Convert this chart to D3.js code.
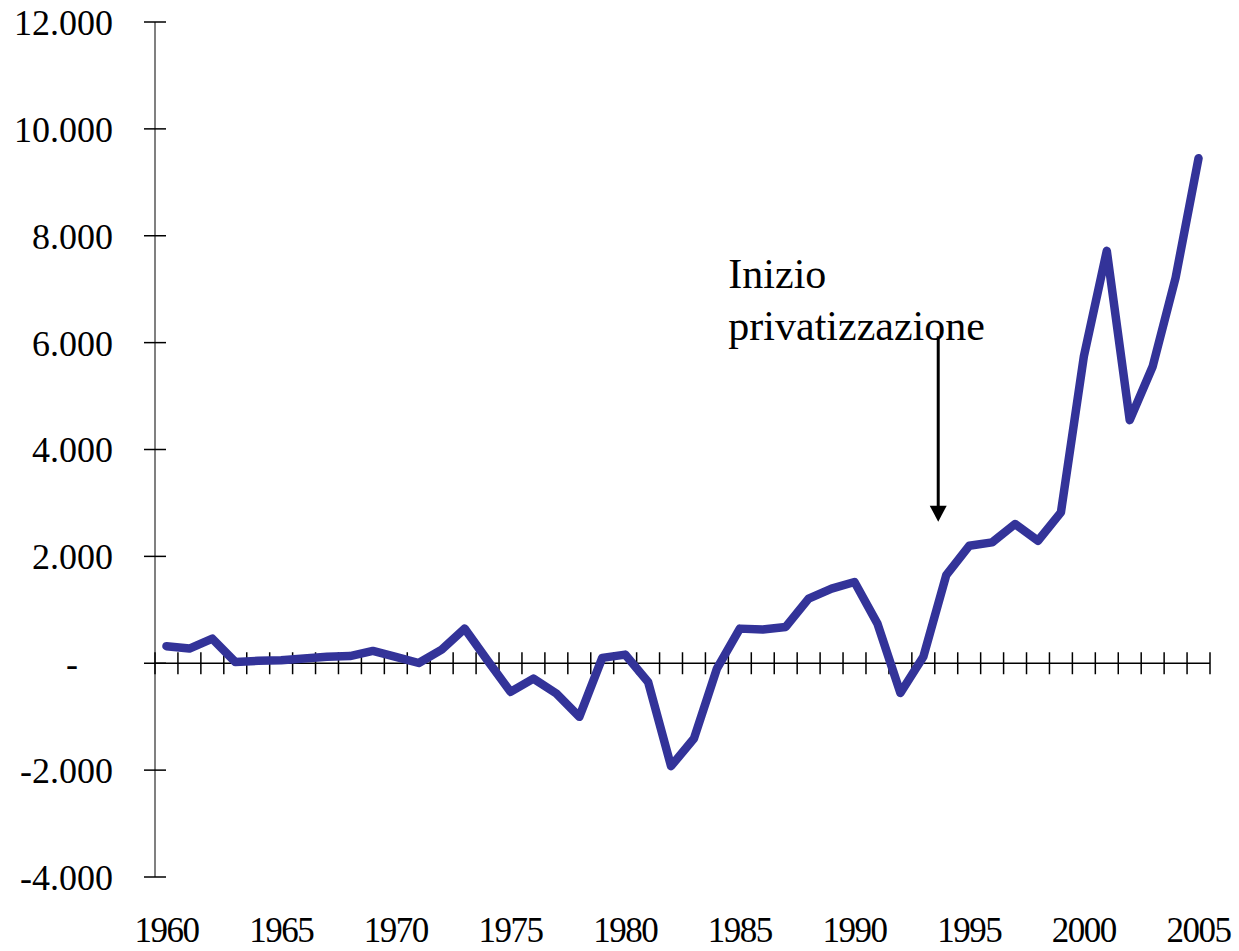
<!DOCTYPE html>
<html>
<head>
<meta charset="utf-8">
<script src="https://cdn.jsdelivr.net/npm/d3@7"></script>
<style>
  html, body { margin: 0; padding: 0; background: #fff; }
  svg { display: block; }
  text { font-family: "Liberation Serif", "Times New Roman", serif; fill: #000; }
</style>
</head>
<body>
<svg id="chart" width="1239" height="951"></svg>
<script>
const years = d3.range(1960, 2006);
const values = [
  320, 275, 460, 25, 45, 55, 90, 120, 135, 230,
  120, 5, 255, 650, 50, -535, -287, -567, -1003, 100,
  162, -350, -1925, -1408, -100, 648, 630, 680, 1210, 1396,
  1520, 742, -555, 120, 1650, 2198, 2262, 2606, 2292, 2824,
  5742, 7718, 4549, 5553, 7215, 9450
];
const yTicks = [-4000, -2000, 0, 2000, 4000, 6000, 8000, 10000, 12000];
const xLabelYears = [1960, 1965, 1970, 1975, 1980, 1985, 1990, 1995, 2000, 2005];
const annotationLines = ["Inizio", "privatizzazione"];
const annotationAt = { year: 1984.5, value: 7015 };
const arrowYear = 1993.65;
const arrowFrom = 6120, arrowTo = 2650;

const svg = d3.select("#chart");
const mLeft = 155, mRight = 1210, mTop = 22, mBottom = 877;

const x = d3.scaleBand().domain(years).range([mLeft, mRight]).paddingInner(0).paddingOuter(0);
const xc = d3.scaleLinear().domain([1959.5, 2005.5]).range([mLeft, mRight]);
const y = d3.scaleLinear().domain([-4000, 12000]).range([mBottom, mTop]);
const cx = d => x(d) + x.bandwidth() / 2;

const fmt = v => v === 0 ? "-" : (v < 0 ? "-" : "") + d3.format(",")(Math.abs(v)).replace(/,/g, ".");

// y axis line
svg.append("line")
  .attr("x1", mLeft).attr("x2", mLeft).attr("y1", y(12000)).attr("y2", y(-4000))
  .attr("stroke", "#808080").attr("stroke-width", 2);

// y ticks
svg.selectAll(".ytick").data(yTicks).join("line")
  .attr("x1", mLeft - 11).attr("x2", mLeft + 11)
  .attr("y1", d => y(d)).attr("y2", d => y(d))
  .attr("stroke", "#000").attr("stroke-width", 1.5);

// y labels
svg.selectAll(".ylab").data(yTicks).join("text")
  .attr("x", d => d === 0 ? 72 : 113)
  .attr("y", d => y(d))
  .attr("dy", "0.36em")
  .attr("text-anchor", d => d === 0 ? "middle" : "end")
  .style("font-size", "36px")
  .text(fmt);

// x axis line at 0
svg.append("line")
  .attr("x1", mLeft).attr("x2", mRight).attr("y1", y(0)).attr("y2", y(0))
  .attr("stroke", "#000").attr("stroke-width", 1.5);

// x ticks at category boundaries
const boundaries = years.map(d => x(d)).concat([mRight]);
svg.selectAll(".xtick").data(boundaries).join("line")
  .attr("x1", d => d).attr("x2", d => d)
  .attr("y1", y(0) - 11).attr("y2", y(0) + 11)
  .attr("stroke", "#000").attr("stroke-width", 1.5);

// x labels
svg.selectAll(".xlab").data(xLabelYears).join("text")
  .attr("x", d => cx(d))
  .attr("y", 942)
  .attr("text-anchor", "middle")
  .style("font-size", "35px")
  .style("letter-spacing", "-1.5px")
  .text(d => d);

// data line
const line = d3.line().x((d, i) => cx(years[i])).y(d => y(d));
svg.append("path")
  .datum(values)
  .attr("d", line)
  .attr("fill", "none")
  .attr("stroke", "#333399")
  .attr("stroke-width", 8.5)
  .attr("stroke-linejoin", "round")
  .attr("stroke-linecap", "round");

// annotation text
const ann = svg.append("text")
  .attr("x", xc(annotationAt.year))
  .attr("y", y(annotationAt.value))
  .style("font-size", "42px");
ann.selectAll("tspan").data(annotationLines).join("tspan")
  .attr("x", xc(annotationAt.year))
  .attr("dy", (d, i) => i === 0 ? 0 : 52)
  .text(d => d);

// arrow
const ax = xc(arrowYear);
svg.append("line")
  .attr("x1", ax).attr("x2", ax)
  .attr("y1", y(arrowFrom)).attr("y2", y(arrowTo) - 12)
  .attr("stroke", "#000").attr("stroke-width", 3);
svg.append("path")
  .attr("d", `M${ax - 8.5},${y(arrowTo) - 16} L${ax + 8.5},${y(arrowTo) - 16} L${ax},${y(arrowTo)} Z`)
  .attr("fill", "#000");
</script>
</body>
</html>
